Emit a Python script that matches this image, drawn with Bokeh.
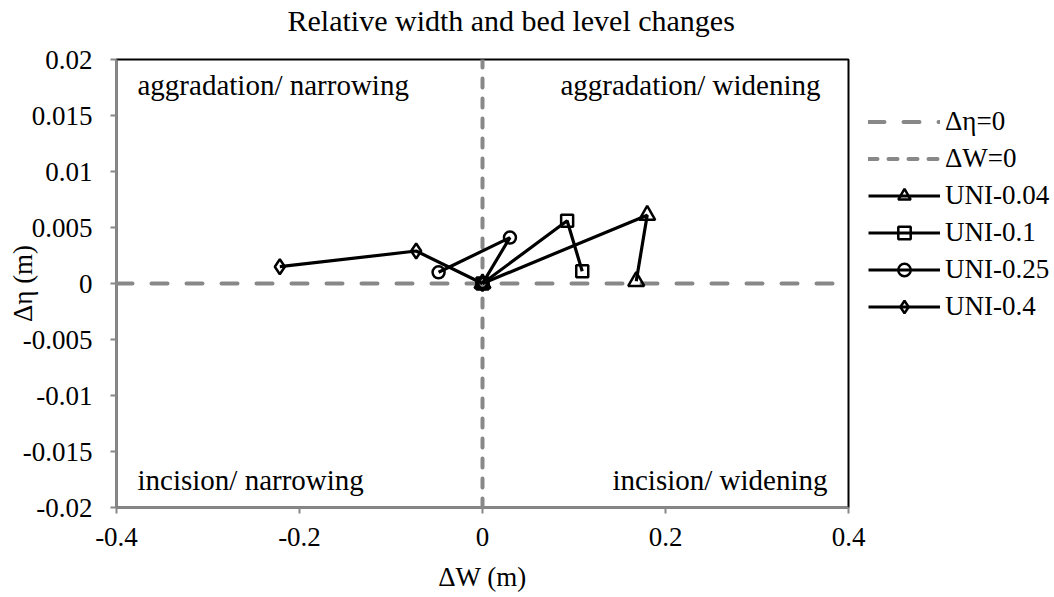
from bokeh.plotting import figure
from bokeh.models import (FixedTicker, CustomJSTickFormatter, Legend, LegendItem,
                          Label, Range1d)
from bokeh.embed import file_html
from bokeh.resources import INLINE

# ---------------- data ----------------
title_text = "Relative width and bed level changes"
x_label = "\u0394W (m)"
y_label = "\u0394\u03b7 (m)"

x_ticks = [-0.4, -0.2, 0.0, 0.2, 0.4]
x_tick_labels = ["-0.4", "-0.2", "0", "0.2", "0.4"]
y_ticks = [-0.02, -0.015, -0.01, -0.005, 0.0, 0.005, 0.01, 0.015, 0.02]
y_tick_labels = ["-0.02", "-0.015", "-0.01", "-0.005", "0", "0.005", "0.01", "0.015", "0.02"]

# reference lines
eta0_x = [-0.4, 0.4]
eta0_y = [0.0, 0.0]
w0_x = [0.0, 0.0]
w0_y = [-0.02, 0.02]

# series (dW, d_eta)
uni_004_dw = [0.0, 0.180, 0.168]
uni_004_deta = [0.0, 0.0061, 0.0002]
uni_01_dw = [0.0, 0.0925, 0.109]
uni_01_deta = [0.0, 0.0056, 0.0011]
uni_025_dw = [0.0, 0.030, -0.048]
uni_025_deta = [0.0, 0.0041, 0.0010]
uni_04_dw = [0.0, -0.0725, -0.2215]
uni_04_deta = [0.0, 0.0029, 0.0015]

quadrant_labels = ["aggradation/ narrowing", "aggradation/ widening",
                   "incision/ narrowing", "incision/ widening"]

# ---------------- figure ----------------
FONT = "Liberation Serif"
GRAY = "#888888"

p = figure(width=1054, height=618, frame_width=732, frame_height=448,
           min_border_left=116, min_border_top=78, min_border_right=206,
           min_border_bottom=90,
           x_range=Range1d(-0.4, 0.4), y_range=Range1d(-0.02, 0.02),
           output_backend="svg", toolbar_location=None,
           title=title_text)
p.styles = {"margin-top": "-21px"}

p.title.text_font = FONT
p.title.text_font_size = "30px"
p.title.text_font_style = "normal"
p.title.text_color = "black"
p.title.align = "left"
p.title.offset = 171
p.title.standoff = 45

p.xgrid.visible = False
p.ygrid.visible = False
p.outline_line_color = "black"
p.outline_line_width = 2
p.background_fill_color = "white"
p.border_fill_color = "white"

fmt_code = """
let best = 0;
for (let i = 0; i < vals.length; i++) {
  if (Math.abs(vals[i] - tick) < Math.abs(vals[best] - tick)) best = i;
}
return labs[best];
"""
for ax, ticks, labs, lab in [(p.xaxis[0], x_ticks, x_tick_labels, x_label),
                             (p.yaxis[0], y_ticks, y_tick_labels, y_label)]:
    ax.ticker = FixedTicker(ticks=ticks)
    ax.formatter = CustomJSTickFormatter(args=dict(vals=ticks, labs=labs), code=fmt_code)
    ax.minor_tick_line_color = None
    ax.major_tick_in = 0
    ax.major_tick_out = 6
    ax.major_tick_line_color = GRAY
    ax.major_tick_line_width = 2
    ax.axis_line_color = GRAY
    ax.axis_line_width = 2
    ax.major_label_text_font = FONT
    ax.major_label_text_font_size = "27px"
    ax.major_label_text_color = "black"
    ax.axis_label = lab
    ax.axis_label_text_font = FONT
    ax.axis_label_text_font_size = "27px"
    ax.axis_label_text_font_style = "normal"
    ax.axis_label_text_color = "black"

p.xaxis.major_label_standoff = 14
p.xaxis.axis_label_standoff = 13
p.yaxis.major_label_standoff = 18
p.yaxis.axis_label_standoff = -18

# reference lines
r_eta = p.line(eta0_x, eta0_y, line_color=GRAY, line_width=4, line_dash="16 19",
               line_cap="round")
r_w = p.line(w0_x, w0_y, line_color=GRAY, line_width=4, line_dash="9 11",
             line_cap="round")

items = [LegendItem(label="\u0394\u03b7=0", renderers=[r_eta]),
         LegendItem(label="\u0394W=0", renderers=[r_w])]

series = [("UNI-0.04", uni_004_dw, uni_004_deta, "triangle", 16),
          ("UNI-0.1", uni_01_dw, uni_01_deta, "square", 12),
          ("UNI-0.25", uni_025_dw, uni_025_deta, "circle", 12),
          ("UNI-0.4", uni_04_dw, uni_04_deta, "diamond", 15)]

for name, xs, ys, marker, size in series:
    rl = p.line(xs, ys, line_color="black", line_width=3.2)
    rm = p.scatter(xs, ys, marker=marker, size=size,
                   line_color="black", line_width=2.5, fill_alpha=0)
    items.append(LegendItem(label=name, renderers=[rl, rm]))

legend = Legend(items=items, location=(20, 185))
legend.label_text_font = FONT
legend.label_text_font_size = "27px"
legend.label_text_color = "black"
legend.glyph_width = 72
legend.glyph_height = 31
legend.label_height = 31
legend.label_standoff = 5
legend.spacing = 6
legend.padding = 0
legend.margin = 0
legend.border_line_color = None
legend.background_fill_alpha = 0
p.add_layout(legend, "right")

# quadrant labels
qpos = [(-0.4, 0.02, 21, -25, "left"),
        (0.4, 0.02, -28, -25, "right"),
        (-0.4, -0.02, 21, 28, "left"),
        (0.4, -0.02, -21, 28, "right")]
for txt, (x, y, xo, yo, al) in zip(quadrant_labels, qpos):
    p.add_layout(Label(x=x, y=y, x_offset=xo, y_offset=yo, text=txt,
                       text_font=FONT, text_font_size="29px",
                       text_align=al, text_baseline="alphabetic",
                       text_color="black"))

open("out.html", "w").write(file_html(p, INLINE))
